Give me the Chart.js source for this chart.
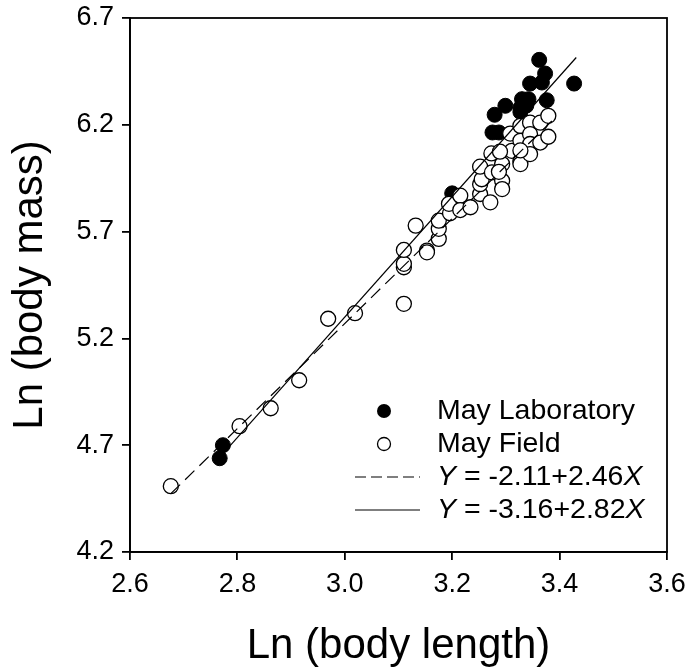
<!DOCTYPE html>
<html>
<head>
<meta charset="utf-8">
<script src="https://cdn.jsdelivr.net/npm/chart.js@4/dist/chart.umd.min.js"></script>
<style>
html,body{margin:0;padding:0;background:#fff;}
canvas{display:block;}
</style>
</head>
<body>
<canvas id="c" width="687" height="672"></canvas>
<script>
// ---- data ----
const labX = [2.767, 2.773, 3.200, 3.362, 3.373, 3.367, 3.345, 3.427, 3.376, 3.330, 3.342, 3.299, 3.279, 3.275, 3.287, 3.327, 3.338, 3.327];
const labY = [4.639, 4.700, 5.879, 6.504, 6.440, 6.398, 6.393, 6.393, 6.315, 6.320, 6.320, 6.289, 6.247, 6.164, 6.164, 6.280, 6.290, 6.260];

const fieldX = [2.676, 2.804, 2.862, 2.915, 2.969, 3.019, 3.110, 3.110, 3.110, 3.110, 3.132, 3.153, 3.153, 3.175, 3.175, 3.175,
                3.196, 3.194, 3.215, 3.215, 3.234, 3.252, 3.252, 3.255, 3.252, 3.271, 3.274, 3.293, 3.293, 3.293, 3.273, 3.308,
                3.311, 3.327, 3.327, 3.327, 3.327, 3.345, 3.345, 3.345, 3.345, 3.364, 3.364, 3.379, 3.379, 3.327, 3.287, 3.289];
const fieldY = [4.508, 4.789, 4.873, 5.004, 5.292, 5.318, 5.362, 5.533, 5.549, 5.614, 5.728, 5.611, 5.603, 5.666, 5.713, 5.751,
                5.786, 5.830, 5.868, 5.801, 5.814, 5.876, 5.922, 5.945, 6.004, 5.837, 5.977, 5.938, 5.899, 6.016, 6.066, 6.159,
                6.078, 6.195, 6.125, 6.030, 6.016, 6.210, 6.156, 6.110, 6.063, 6.210, 6.117, 6.242, 6.144, 6.080, 5.980, 6.074];

// regression line end points (field: dashed, lab: solid)
const fieldLineX = [2.676, 3.388];
const fieldLineY = [4.473, 6.224];
const labLineX = [2.767, 3.431];
const labLineY = [4.643, 6.515];

const xTicks = [2.6, 2.8, 3.0, 3.2, 3.4, 3.6];
const yTicks = [4.2, 4.7, 5.2, 5.7, 6.2, 6.7];

const seriesNames = ['May Laboratory', 'May Field'];
const eqField = ['Y', ' = -2.11+2.46', 'X'];
const eqLab = ['Y', ' = -3.16+2.82', 'X'];
const xTitle = 'Ln (body length)';
const yTitle = 'Ln (body mass)';

const toPts = (xs, ys) => xs.map((x, i) => ({x: x, y: ys[i]}));

const FONT = 'Arial, "Liberation Sans", sans-serif';
Chart.defaults.font.family = FONT;
Chart.defaults.color = '#000';

const framePlugin = {
  id: 'frame',
  afterDraw(chart) {
    const {ctx, chartArea: a} = chart;
    ctx.save();
    ctx.strokeStyle = '#000';
    ctx.lineWidth = 1.8;
    ctx.strokeRect(a.left, a.top, a.right - a.left, a.bottom - a.top);
    ctx.restore();
  }
};

const legendPlugin = {
  id: 'customLegend',
  afterDraw(chart) {
    const ctx = chart.ctx;
    ctx.save();
    ctx.fillStyle = '#000';
    ctx.strokeStyle = '#000';
    ctx.textBaseline = 'middle';
    const mx = 384, tx = 437;
    const rows = [411, 444, 477, 510];
    // filled marker
    ctx.beginPath(); ctx.arc(mx, rows[0], 7, 0, Math.PI * 2); ctx.fill();
    // open marker
    ctx.lineWidth = 1.3;
    ctx.beginPath(); ctx.arc(mx, rows[1], 6.5, 0, Math.PI * 2);
    ctx.fillStyle = '#fff'; ctx.fill(); ctx.stroke();
    ctx.fillStyle = '#000';
    // dashed line
    ctx.lineWidth = 1.2;
    ctx.setLineDash([11, 5]);
    ctx.beginPath(); ctx.moveTo(355, rows[2]); ctx.lineTo(420, rows[2]); ctx.stroke();
    ctx.setLineDash([]);
    ctx.beginPath(); ctx.moveTo(355, rows[3]); ctx.lineTo(420, rows[3]); ctx.stroke();

    const normal = '28.5px ' + FONT;
    const italic = 'italic 28.5px ' + FONT;
    ctx.font = normal;
    ctx.fillText(seriesNames[0], tx, rows[0]);
    ctx.fillText(seriesNames[1], tx, rows[1]);
    [[eqField, rows[2]], [eqLab, rows[3]]].forEach(([parts, y]) => {
      let x = tx;
      parts.forEach((p, i) => {
        ctx.font = (i === 1) ? normal : italic;
        ctx.fillText(p, x, y);
        x += ctx.measureText(p).width;
      });
    });
    ctx.restore();
  }
};

new Chart(document.getElementById('c'), {
  type: 'scatter',
  data: {
    datasets: [
      {
        label: seriesNames[0],
        data: toPts(labX, labY),
        pointRadius: 7.5,
        pointBackgroundColor: '#000',
        pointBorderColor: '#000',
        pointBorderWidth: 1,
        order: 4
      },
      {
        label: seriesNames[1],
        data: toPts(fieldX, fieldY),
        pointRadius: 7.5,
        pointBackgroundColor: '#fff',
        pointBorderColor: '#000',
        pointBorderWidth: 1.3,
        order: 3
      },
      {
        label: 'field fit',
        data: toPts(fieldLineX, fieldLineY),
        showLine: true,
        pointRadius: 0,
        borderColor: '#000',
        borderWidth: 1.2,
        borderDash: [13, 7],
        fill: false,
        order: 2
      },
      {
        label: 'lab fit',
        data: toPts(labLineX, labLineY),
        showLine: true,
        pointRadius: 0,
        borderColor: '#000',
        borderWidth: 1.2,
        fill: false,
        order: 1
      }
    ]
  },
  options: {
    responsive: false,
    animation: false,
    events: [],
    layout: {padding: {top: 18, right: 20, left: 0, bottom: 0}},
    plugins: {legend: {display: false}, tooltip: {enabled: false}},
    scales: {
      x: {
        type: 'linear',
        min: xTicks[0], max: xTicks[xTicks.length - 1],
        afterBuildTicks: (s) => { s.ticks = xTicks.map(v => ({value: v})); },
        afterFit: (s) => { s.height = 120; s.paddingRight = 0; s.paddingLeft = 0; },
        ticks: {
          font: {size: 27},
          color: '#000',
          padding: 8,
          maxRotation: 0,
          callback: (v) => Number(v).toFixed(1)
        },
        grid: {display: true, drawOnChartArea: false, drawTicks: true, tickLength: 8, color: '#000', lineWidth: 1.8},
        border: {display: true, color: '#000', width: 1.8},
        title: {display: true, text: xTitle, font: {size: 42}, color: '#000', padding: {top: 0, bottom: 0}}
      },
      y: {
        type: 'linear',
        min: yTicks[0], max: yTicks[yTicks.length - 1],
        afterBuildTicks: (s) => { s.ticks = yTicks.map(v => ({value: v})); },
        afterFit: (s) => { s.width = 130; s.paddingTop = 0; s.paddingBottom = 0; },
        ticks: {
          font: {size: 27},
          color: '#000',
          padding: 8,
          callback: (v) => Number(v).toFixed(1)
        },
        grid: {display: true, drawOnChartArea: false, drawTicks: true, tickLength: 8, color: '#000', lineWidth: 1.8},
        border: {display: true, color: '#000', width: 1.8},
        title: {display: true, text: yTitle, font: {size: 42}, color: '#000', padding: {top: 5, bottom: 0}}
      }
    }
  },
  plugins: [framePlugin, legendPlugin]
});
</script>
</body>
</html>
